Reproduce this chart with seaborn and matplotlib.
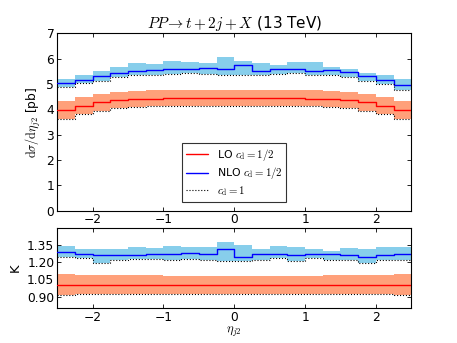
import numpy as np
import pandas as pd
import matplotlib
matplotlib.use("Agg")
import matplotlib.pyplot as plt
import seaborn as sns

edges = [-2.5, -2.25, -2.0, -1.75, -1.5, -1.25, -1.0, -0.75, -0.5, -0.25, 0.0,
         0.25, 0.5, 0.75, 1.0, 1.25, 1.5, 1.75, 2.0, 2.25, 2.5]

nlo = [5.04, 5.17, 5.31, 5.43, 5.50, 5.54, 5.59, 5.60, 5.64, 5.59,
       5.76, 5.50, 5.57, 5.58, 5.50, 5.54, 5.47, 5.31, 5.14, 4.97]
nlo_hi = [5.21, 5.36, 5.53, 5.66, 5.84, 5.80, 5.89, 5.87, 5.84, 6.05,
          5.92, 5.84, 5.76, 5.88, 5.85, 5.68, 5.59, 5.44, 5.36, 5.20]
nlo_cd1 = [4.86, 5.02, 5.13, 5.27, 5.34, 5.36, 5.41, 5.43, 5.40, 5.37,
           5.36, 5.35, 5.40, 5.43, 5.34, 5.34, 5.26, 5.12, 4.98, 4.78]

lo = [3.96, 4.12, 4.27, 4.35, 4.40, 4.42, 4.44, 4.44, 4.44, 4.44,
      4.44, 4.44, 4.44, 4.44, 4.42, 4.40, 4.35, 4.27, 4.12, 3.96]
lo_hi = [4.31, 4.47, 4.60, 4.67, 4.72, 4.75, 4.76, 4.76, 4.76, 4.76,
         4.76, 4.76, 4.76, 4.76, 4.75, 4.72, 4.67, 4.60, 4.47, 4.31]
lo_cd1 = [3.63, 3.81, 3.93, 4.04, 4.10, 4.13, 4.13, 4.13, 4.13, 4.13,
          4.13, 4.13, 4.13, 4.13, 4.13, 4.10, 4.04, 3.93, 3.81, 3.63]

k_nlo = [1.290, 1.275, 1.260, 1.260, 1.266, 1.270, 1.275, 1.284, 1.275, 1.315,
         1.250, 1.275, 1.275, 1.263, 1.270, 1.270, 1.260, 1.250, 1.263, 1.275]
k_nlo_hi = [1.345, 1.320, 1.313, 1.313, 1.336, 1.325, 1.345, 1.336, 1.336, 1.382,
            1.356, 1.320, 1.345, 1.336, 1.318, 1.295, 1.325, 1.318, 1.336, 1.336]
k_nlo_cd1 = [1.250, 1.234, 1.197, 1.222, 1.228, 1.228, 1.222, 1.228, 1.217, 1.210,
             1.213, 1.222, 1.234, 1.213, 1.234, 1.222, 1.222, 1.197, 1.217, 1.222]
k_lo = [1.0] * 20
k_lo_hi = [1.100, 1.093, 1.090, 1.088, 1.086, 1.085, 1.084, 1.083, 1.083, 1.083,
           1.083, 1.083, 1.083, 1.083, 1.084, 1.085, 1.086, 1.088, 1.093, 1.100]
k_lo_cd1 = [0.918, 0.920, 0.920, 0.920, 0.920, 0.920, 0.920, 0.920, 0.920, 0.920,
            0.920, 0.920, 0.920, 0.920, 0.920, 0.920, 0.920, 0.920, 0.920, 0.918]

sns.set_style("ticks")
plt.rcParams["font.family"] = ["DejaVu Sans"]
plt.rcParams["mathtext.fontset"] = "cm"
plt.rcParams["xtick.direction"] = "in"
plt.rcParams["ytick.direction"] = "in"
plt.rcParams["xtick.top"] = True
plt.rcParams["ytick.right"] = True
for k in ("text.color", "axes.labelcolor", "xtick.color", "ytick.color", "axes.edgecolor"):
    plt.rcParams[k] = "black"

fig = plt.figure(figsize=(4.57, 3.43), dpi=100)
ax1 = fig.add_axes([0.125, 0.386, 0.775, 0.517])
ax2 = fig.add_axes([0.125, 0.102, 0.775, 0.233])


def st(v):
    return list(v) + [v[-1]]


def draw(ax, lo_, lo_hi_, lo_lo_, n, n_hi, n_lo, legend=False):
    x = edges
    ax.fill_between(x, st(lo_lo_), st(lo_hi_), step="post", color="#ffa07a", lw=0, zorder=1)
    ax.fill_between(x, st(n_lo), st(n_hi), step="post", color="#87ceeb", lw=0, zorder=1)
    df = pd.DataFrame({"x": x, "lo": st(lo_), "nlo": st(n),
                       "lo1": st(lo_lo_), "nlo1": st(n_lo)})
    sns.lineplot(data=df, x="x", y="lo", ax=ax, color="red", lw=1.0, drawstyle="steps-post",
                 label=r"LO $c_{\rm d}=1/2$" if legend else None, zorder=3)
    sns.lineplot(data=df, x="x", y="nlo", ax=ax, color="blue", lw=1.0, drawstyle="steps-post",
                 label=r"NLO $c_{\rm d}=1/2$" if legend else None, zorder=3)
    sns.lineplot(data=df, x="x", y="lo1", ax=ax, color="black", lw=0.8, ls=":",
                 drawstyle="steps-post", label=r"$c_{\rm d}=1$" if legend else None, zorder=3)
    sns.lineplot(data=df, x="x", y="nlo1", ax=ax, color="black", lw=0.8, ls=":",
                 drawstyle="steps-post", zorder=3)


draw(ax1, lo, lo_hi, lo_cd1, nlo, nlo_hi, nlo_cd1, legend=True)
draw(ax2, k_lo, k_lo_hi, k_lo_cd1, k_nlo, k_nlo_hi, k_nlo_cd1)

for ax in (ax1, ax2):
    ax.set_xlim(-2.5, 2.5)
    ax.set_xticks([-2, -1, 0, 1, 2])
    ax.tick_params(labelsize=8.8, length=3, width=0.6, pad=2, colors="black")
    for s in ax.spines.values():
        s.set_linewidth(0.8)
        s.set_color("black")

ax1.set_ylim(0, 7)
ax1.set_yticks(range(8))
ax1.set_xlabel("")
ax1.set_ylabel(r"$\mathrm{d}\sigma/\mathrm{d}\eta_{j2}$ [pb]", fontsize=8.8, labelpad=3)
ax1.set_title(r"$PP\!\rightarrow t+2j+X$ (13 TeV)", fontsize=11, pad=3)
leg = ax1.legend(loc="lower center", bbox_to_anchor=(0.5, 0.02), fontsize=7.8,
                 frameon=True, fancybox=False, edgecolor="black", handlelength=2.0,
                 borderpad=0.35, labelspacing=0.25, handletextpad=0.8)
leg.get_frame().set_linewidth(0.8)

ax2.set_ylim(0.8, 1.5)
ax2.set_yticks([0.90, 1.05, 1.20, 1.35])
ax2.set_yticklabels(["0.90", "1.05", "1.20", "1.35"])
ax2.set_ylabel("K", fontsize=9.5, labelpad=4)
ax2.set_xlabel(r"$\eta_{j2}$", fontsize=9, labelpad=1)

fig.savefig("out.png", dpi=100)
